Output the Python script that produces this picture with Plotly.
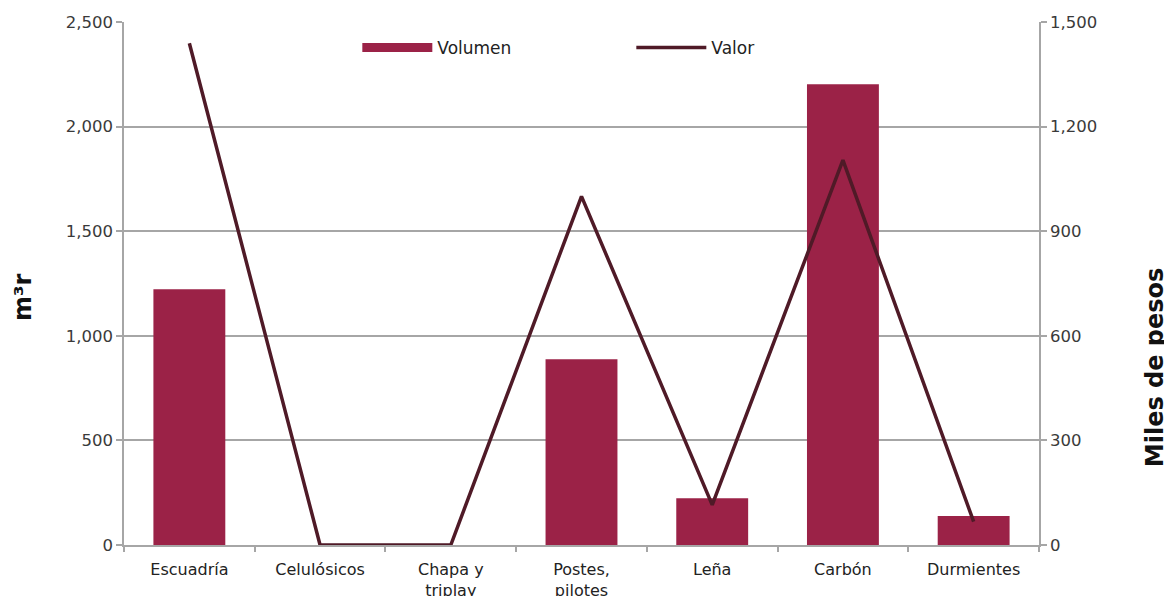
import plotly.graph_objects as go

categorias = ["Escuadría", "Celulósicos", "Chapa y<br>triplay", "Postes,<br>pilotes", "Leña", "Carbón", "Durmientes"]
volumen = [1222, 0, 0, 888, 223, 2203, 139]
valor = [1439, 0, 0, 1000, 115, 1104, 67]

ticks_izq = [0, 500, 1000, 1500, 2000, 2500]
ticks_der = [0, 300, 600, 900, 1200, 1500]

BAR = "#9B2247"
LINE = "#4F1A27"
GRID = "#A6A6A6"
TXT = "#3A3A3A"
FONT = "DejaVu Sans"

fig = go.Figure()
fig.add_trace(go.Bar(x=categorias, y=volumen, marker=dict(color=BAR, line=dict(width=0)),
                     width=0.55, showlegend=False, name="Volumen"))
fig.add_trace(go.Scatter(x=[None], y=[None], mode="lines", name="Volumen",
                         line=dict(color=BAR, width=9)))
fig.add_trace(go.Scatter(x=categorias, y=valor, mode="lines", name="Valor", yaxis="y2",
                         line=dict(color=LINE, width=3.5)))

fig.update_layout(
    width=1172, height=596,
    margin=dict(l=116, r=141, t=14, b=59),
    plot_bgcolor="white", paper_bgcolor="white",
    font=dict(family=FONT, size=15, color=TXT),
    xaxis=dict(showline=True, linecolor=GRID, linewidth=1.5, ticks="outside",
               tickson="boundaries", ticklen=5, tickcolor=GRID, tickwidth=1.5,
               tickfont=dict(size=16, color="#222222"), showgrid=False,
               ticklabelstandoff=9, automargin=False),
    yaxis=dict(range=[0, 2500], tickvals=ticks_izq, tickformat=",",
               showline=True, linecolor=GRID, linewidth=1.5,
               ticks="outside", ticklen=6, tickcolor=GRID, tickwidth=1.5,
               showgrid=True, gridcolor=GRID, gridwidth=1.5, zeroline=False,
               tickfont=dict(size=16.5, color=TXT), automargin=False),
    yaxis2=dict(range=[0, 1500], tickvals=ticks_der, tickformat=",", overlaying="y", side="right",
                showline=True, linecolor=GRID, linewidth=1.5,
                ticks="outside", ticklen=6, tickcolor=GRID, tickwidth=1.5,
                showgrid=False, zeroline=False,
                tickfont=dict(size=16.5, color=TXT), automargin=False),
    legend=dict(orientation="h", x=0.255, y=0.985, xanchor="left", yanchor="top",
                bgcolor="rgba(0,0,0,0)", font=dict(size=17, color="#222222"),
                entrywidth=189, itemwidth=70),
    annotations=[
        dict(text="m³r", xref="paper", yref="paper", x=-0.1104, y=0.474,
             xanchor="center", yanchor="middle", textangle=-90, showarrow=False,
             font=dict(size=24, color="#111111", family=FONT, weight="bold")),
        dict(text="Miles de pesos", xref="paper", yref="paper", x=1.1268, y=0.34,
             xanchor="center", yanchor="middle", textangle=-90, showarrow=False,
             font=dict(size=24, color="#111111", family=FONT, weight="bold")),
    ],
)

fig.write_html("out.html")
